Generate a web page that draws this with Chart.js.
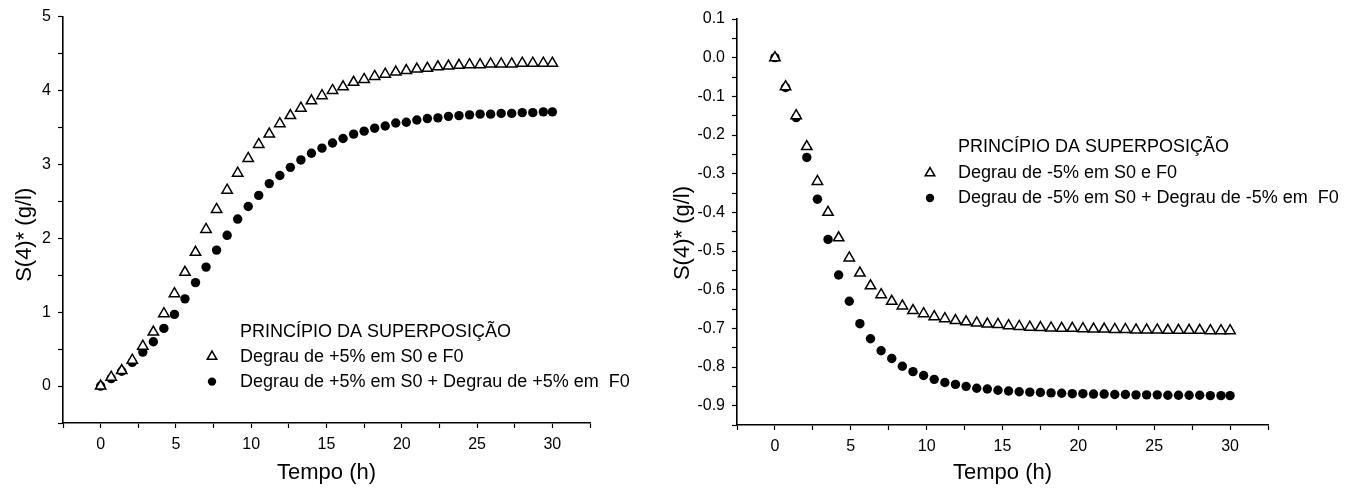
<!DOCTYPE html>
<html>
<head>
<meta charset="utf-8">
<script src="https://cdn.jsdelivr.net/npm/chart.js@4.4.1/dist/chart.umd.min.js"></script>
<style>
body{margin:0;background:#fff;width:1358px;height:488px;overflow:hidden;position:relative}
.box{position:absolute;top:0;height:488px}
</style>
</head>
<body>
<div class="box" style="left:0;width:660px"><canvas id="chartPos"></canvas></div>
<div class="box" style="left:660px;width:698px"><canvas id="chartNeg"></canvas></div>
<script>
// tempo (h) de cada ponto
const tempo = [0, 0.7, 1.4, 2.1, 2.8, 3.5, 4.2, 4.9, 5.6, 6.3, 7.0, 7.7, 8.4, 9.1, 9.8,
  10.5, 11.2, 11.9, 12.6, 13.3, 14.0, 14.7, 15.4, 16.1, 16.8, 17.5, 18.2, 18.9, 19.6,
  20.3, 21.0, 21.7, 22.4, 23.1, 23.8, 24.5, 25.2, 25.9, 26.6, 27.3, 28.0, 28.7, 29.4, 30.0];

// degrau de +5%
const posSF = [0, 0.12, 0.21, 0.35, 0.54, 0.73, 0.98, 1.25, 1.54, 1.81, 2.12, 2.39, 2.65, 2.88, 3.08,
  3.27, 3.41, 3.55, 3.66, 3.76, 3.86, 3.93, 4.0, 4.05, 4.11, 4.15, 4.19, 4.22, 4.25,
  4.27, 4.29, 4.30, 4.32, 4.33, 4.34, 4.35, 4.35, 4.36, 4.36, 4.36, 4.37, 4.37, 4.37, 4.37];
const posSoma = [0, 0.1, 0.2, 0.32, 0.46, 0.6, 0.78, 0.97, 1.18, 1.4, 1.61, 1.84, 2.04, 2.26, 2.43,
  2.58, 2.74, 2.85, 2.96, 3.06, 3.15, 3.22, 3.29, 3.35, 3.41, 3.45, 3.49, 3.52, 3.56,
  3.57, 3.6, 3.62, 3.63, 3.65, 3.66, 3.67, 3.68, 3.68, 3.69, 3.69, 3.7, 3.7, 3.71, 3.71];

// degrau de -5%
const negSF = [0, -0.075, -0.15, -0.23, -0.32, -0.40, -0.466, -0.518, -0.557, -0.59, -0.613, -0.63, -0.642, -0.654, -0.662,
  -0.67, -0.675, -0.68, -0.683, -0.686, -0.689, -0.69, -0.693, -0.695, -0.697, -0.698, -0.699, -0.70, -0.70,
  -0.701, -0.702, -0.702, -0.703, -0.703, -0.704, -0.704, -0.704, -0.705, -0.705, -0.705, -0.705, -0.706, -0.706, -0.706];
const negSoma = [0, -0.077, -0.155, -0.258, -0.366, -0.47, -0.562, -0.63, -0.688, -0.727, -0.758, -0.778, -0.798, -0.812, -0.822,
  -0.832, -0.84, -0.845, -0.85, -0.855, -0.857, -0.86, -0.862, -0.864, -0.865, -0.866, -0.867, -0.868, -0.869,
  -0.869, -0.87, -0.87, -0.871, -0.871, -0.872, -0.872, -0.872, -0.873, -0.873, -0.873, -0.873, -0.874, -0.874, -0.874];

const tituloLegenda = 'PRINCÍPIO DA SUPERPOSIÇÃO';
const legendaPos = ['Degrau de +5% em S0 e F0', 'Degrau de +5% em S0 + Degrau de +5% em  F0'];
const legendaNeg = ['Degrau de -5% em S0 e F0', 'Degrau de -5% em S0 + Degrau de -5% em  F0'];
const tituloX = 'Tempo (h)';
const tituloY = 'S(4)* (g/l)';

const FONTE = '"Liberation Sans", Arial, sans-serif';

function pontos(ys) {
  return tempo.map((t, i) => ({x: t, y: ys[i]}));
}

function serieTri(label, ys) {
  return {
    label: label, data: pontos(ys), showLine: false,
    pointStyle: 'triangle', pointRadius: 6, pointHoverRadius: 6,
    pointBackgroundColor: '#fff', pointBorderColor: '#000', pointBorderWidth: 1.5
  };
}
function serieBola(label, ys) {
  return {
    label: label, data: pontos(ys), showLine: false,
    pointStyle: 'circle', pointRadius: 4.7, pointHoverRadius: 4.7,
    pointBackgroundColor: '#000', pointBorderColor: '#000', pointBorderWidth: 0
  };
}

// legenda desenhada dentro da area do grafico
const legendaInterna = {
  id: 'legendaInterna',
  afterDatasetsDraw(chart, args, o) {
    const ctx = chart.ctx, a = chart.chartArea;
    ctx.save();
    ctx.font = '18px ' + FONTE;
    ctx.fillStyle = '#000';
    ctx.textBaseline = 'middle';
    ctx.fillText(o.titulo, a.left + o.dx, a.top + o.linhas[0]);
    chart.data.datasets.forEach((ds, i) => {
      const y = a.top + o.linhas[i + 1];
      ctx.fillStyle = ds.pointBackgroundColor;
      ctx.strokeStyle = ds.pointBorderColor;
      ctx.lineWidth = ds.pointBorderWidth;
      Chart.helpers.drawPoint(ctx, {pointStyle: ds.pointStyle, radius: ds.pointRadius - 0.5, borderWidth: ds.pointBorderWidth}, a.left + o.sx, y);
      ctx.fillStyle = '#000';
      ctx.fillText(ds.label, a.left + o.dx, y);
    });
    ctx.restore();
  }
};

// titulo do eixo y (um pouco abaixo do centro, como no original)
const tituloEixoY = {
  id: 'tituloEixoY',
  afterDraw(chart, args, o) {
    const ctx = chart.ctx, a = chart.chartArea;
    ctx.save();
    ctx.translate(o.x, (a.top + a.bottom) / 2 + o.dy);
    ctx.rotate(-Math.PI / 2);
    ctx.font = '22px ' + FONTE;
    ctx.fillStyle = '#000';
    ctx.textAlign = 'center';
    ctx.textBaseline = 'middle';
    ctx.fillText(tituloY, 0, 0);
    ctx.restore();
  }
};

function eixos(yMin, yMax, yStep, yLabel, yW, xH) {
  const tickFont = {family: FONTE, size: 16};
  return {
    x: {
      type: 'linear', min: -2.5, max: 32.5,
      afterFit: s => { s.height = xH; },
      border: {display: true, color: '#000', width: 1.6},
      grid: {display: true, drawOnChartArea: false, drawTicks: true, tickLength: 5, color: '#000', tickWidth: 1.2},
      ticks: {stepSize: 2.5, autoSkip: false, maxRotation: 0, color: '#000', font: tickFont, padding: 7,
        callback: v => (Math.abs(v % 5) < 1e-6 ? String(v) : '')},
      title: {display: true, text: tituloX, color: '#000', font: {family: FONTE, size: 22}, padding: {top: 4, bottom: 2}}
    },
    y: {
      type: 'linear', min: yMin, max: yMax,
      afterFit: s => { s.width = yW; },
      border: {display: true, color: '#000', width: 1.6},
      grid: {display: true, drawOnChartArea: false, drawTicks: true, tickLength: 5, color: '#000', tickWidth: 1.2},
      ticks: {stepSize: yStep, autoSkip: false, color: '#000', font: tickFont, padding: 7, callback: yLabel},
      title: {display: false}
    }
  };
}

Chart.defaults.animation = false;
Chart.defaults.responsive = true;
Chart.defaults.maintainAspectRatio = false;

new Chart(document.getElementById('chartPos'), {
  type: 'scatter',
  data: {datasets: [serieTri(legendaPos[0], posSF), serieBola(legendaPos[1], posSoma)]},
  plugins: [legendaInterna, tituloEixoY],
  options: {
    layout: {padding: {left: 0, right: 70, top: 16, bottom: 0}},
    plugins: {
      legend: {display: false}, tooltip: {enabled: false},
      legendaInterna: {titulo: tituloLegenda, dx: 177, sx: 149, linhas: [315, 340, 365]},
      tituloEixoY: {x: 25, dy: 15}
    },
    scales: eixos(-0.5, 5, 0.5, v => (Math.abs(v - Math.round(v)) < 1e-6 ? String(Math.round(v)) : ''), 63, 65)
  }
});

new Chart(document.getElementById('chartNeg'), {
  type: 'scatter',
  data: {datasets: [serieTri(legendaNeg[0], negSF), serieBola(legendaNeg[1], negSoma)]},
  plugins: [legendaInterna, tituloEixoY],
  options: {
    layout: {padding: {left: 0, right: 90, top: 19, bottom: 0}},
    plugins: {
      legend: {display: false}, tooltip: {enabled: false},
      legendaInterna: {titulo: tituloLegenda, dx: 221, sx: 193, linhas: [128, 154, 179]},
      tituloEixoY: {x: 23, dy: 11}
    },
    scales: eixos(-0.95, 0.1, 0.05, v => {
      const d = v * 10;
      return Math.abs(d - Math.round(d)) < 1e-6 ? (Math.round(d) / 10).toFixed(1) : '';
    }, 77, 63)
  }
});
</script>
</body>
</html>
